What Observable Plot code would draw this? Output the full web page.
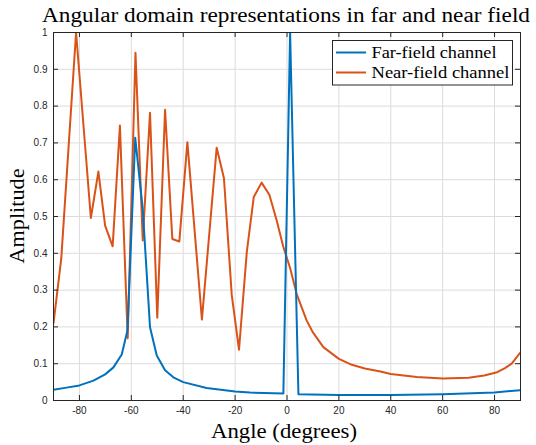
<!DOCTYPE html>
<html>
<head>
<meta charset="utf-8">
<script src="https://cdn.jsdelivr.net/npm/d3@7"></script>
<script src="https://cdn.jsdelivr.net/npm/@observablehq/plot@0.6"></script>
<style>
  html, body { margin: 0; padding: 0; background: #fff; }
</style>
</head>
<body>
<div id="chart"></div>
<script>
// ---- data ----
const nearAngle = [-90, -87, -81.3, -75.6, -72.7, -70.1, -67.2, -64.4, -61.4, -58.4, -55.6, -52.8, -50, -47, -44.2, -41.5, -38.4, -32.8, -27.1, -24.3, -21.3, -18.5, -15.5, -12.8, -9.8, -6.8, -4, -1.4, 1.2, 3.7, 7.6, 10, 14, 20, 25, 30, 36, 40, 50, 60, 70, 76, 81, 84, 86.6, 90];
const nearAmp = [0.21, 0.386, 1.0, 0.496, 0.622, 0.475, 0.419, 0.747, 0.169, 0.945, 0.435, 0.782, 0.225, 0.79, 0.439, 0.432, 0.702, 0.22, 0.687, 0.604, 0.287, 0.138, 0.403, 0.553, 0.592, 0.559, 0.49, 0.417, 0.36, 0.29, 0.217, 0.185, 0.145, 0.113, 0.097, 0.087, 0.079, 0.072, 0.064, 0.06, 0.062, 0.068, 0.077, 0.088, 0.1, 0.131];

const farAngle = [-90, -85, -80, -74.6, -70.1, -66.9, -63.7, -61.5, -58.5, -55.6, -52.8, -50.2, -47, -43.8, -40, -31, -20, -14.3, -1.4, 1.2, 4.4, 20, 40, 60, 80, 90];
const farAmp = [0.029, 0.035, 0.041, 0.054, 0.071, 0.09, 0.125, 0.19, 0.714, 0.52, 0.199, 0.122, 0.082, 0.063, 0.05, 0.034, 0.0245, 0.0217, 0.019, 1.0, 0.017, 0.015, 0.015, 0.017, 0.022, 0.028];

const xTicks = [-80, -60, -40, -20, 0, 20, 40, 60, 80];
const yTicks = [0, 0.1, 0.2, 0.3, 0.4, 0.5, 0.6, 0.7, 0.8, 0.9, 1];
const seriesNames = ["Far-field channel", "Near-field channel"];
const seriesColors = ["#0072BD", "#D95319"];
const titleText = "Angular domain representations in far and near field";
const xLabel = "Angle (degrees)";
const yLabel = "Amplitude";

const near = nearAngle.map((a, i) => ({angle: a, amp: nearAmp[i]}));
const far = farAngle.map((a, i) => ({angle: a, amp: farAmp[i]}));

const W = 536, H = 445;
const mL = 53, mR = 16, mT = 32, mB = 45;
const innerH = H - mT - mB, innerW = W - mL - mR;
const axisColor = "#262626";
const gridColor = "#dcdcdc";
const serif = "'Liberation Serif', 'DejaVu Serif', serif";
const sans = "'Liberation Sans', Arial, sans-serif";

const svg = Plot.plot({
  width: W, height: H,
  marginLeft: mL, marginRight: mR, marginTop: mT, marginBottom: mB,
  style: {fontFamily: sans, fontSize: "10px", color: axisColor, background: "#fff"},
  x: {domain: [-90, 90]},
  y: {domain: [0, 1]},
  marks: [
    Plot.gridX(xTicks, {stroke: gridColor, strokeOpacity: 1}),
    Plot.gridY(yTicks, {stroke: gridColor, strokeOpacity: 1}),
    Plot.line(near, {x: "angle", y: "amp", stroke: seriesColors[1], strokeWidth: 2, clip: true}),
    Plot.line(far, {x: "angle", y: "amp", stroke: seriesColors[0], strokeWidth: 2, clip: true}),
    // inward tick marks on all four sides
    Plot.ruleX(xTicks, {x: d => d, insetTop: innerH - 5, stroke: axisColor}),
    Plot.ruleX(xTicks, {x: d => d, insetBottom: innerH - 5, stroke: axisColor}),
    Plot.ruleY(yTicks, {y: d => d, insetRight: innerW - 5, stroke: axisColor}),
    Plot.ruleY(yTicks, {y: d => d, insetLeft: innerW - 5, stroke: axisColor}),
    Plot.frame({stroke: axisColor, strokeWidth: 1}),
    Plot.axisX(xTicks, {tickSize: 0, tickPadding: 6, tickFormat: d => String(d), label: null, fontSize: 10, fill: axisColor}),
    Plot.axisY(yTicks, {tickSize: 0, tickPadding: 6, tickFormat: d => (d === 0 || d === 1) ? String(d) : d.toFixed(1), label: null, fontSize: 10, fill: axisColor})
  ]
});

document.getElementById("chart").appendChild(svg);
const s = d3.select(svg);

function serifText(sel, size) {
  return sel.style("font-family", serif).style("font-size", size + "px").style("fill", "#000");
}

// title
serifText(s.append("text"), 20.5)
  .attr("x", 286).attr("y", 22)
  .attr("text-anchor", "middle")
  .attr("textLength", 488).attr("lengthAdjust", "spacingAndGlyphs")
  .text(titleText);

// x label
serifText(s.append("text"), 21)
  .attr("x", 284).attr("y", 438)
  .attr("text-anchor", "middle")
  .attr("textLength", 146).attr("lengthAdjust", "spacingAndGlyphs")
  .text(xLabel);

// y label
serifText(s.append("text"), 21)
  .attr("transform", `translate(24, ${mT + innerH / 2}) rotate(-90)`)
  .attr("text-anchor", "middle")
  .attr("textLength", 95).attr("lengthAdjust", "spacingAndGlyphs")
  .text(yLabel);

// legend
const legendWidths = [125, 138];
const lg = s.append("g");
lg.append("rect")
  .attr("x", 332.5).attr("y", 40.5).attr("width", 180).attr("height", 44.5)
  .attr("fill", "#fff").attr("stroke", axisColor).attr("stroke-width", 1);
seriesNames.forEach((name, i) => {
  const yy = 52.5 + i * 20;
  lg.append("line")
    .attr("x1", 336).attr("x2", 366).attr("y1", yy).attr("y2", yy)
    .attr("stroke", seriesColors[i]).attr("stroke-width", 2);
  serifText(lg.append("text"), 17)
    .attr("x", 371.5).attr("y", yy + 5)
    .attr("text-anchor", "start")
    .attr("textLength", legendWidths[i]).attr("lengthAdjust", "spacingAndGlyphs")
    .text(name);
});
</script>
</body>
</html>
